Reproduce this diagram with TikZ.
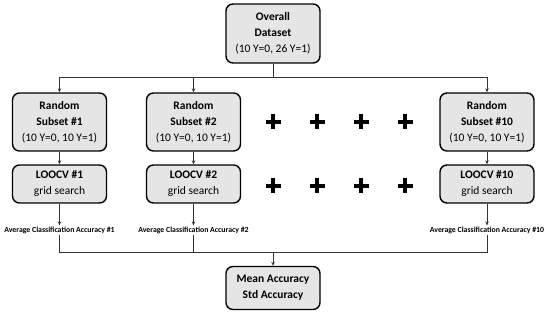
\documentclass[tikz,border=0pt]{standalone}
\usepackage{fontspec}
\setmainfont{Carlito}
\usetikzlibrary{positioning, arrows.meta}

\begin{document}
\begin{tikzpicture}[x=1pt, y=-1pt,
          nd/.style={draw, line width=1.4pt, rounded corners=7pt, fill=gray!20,
                     minimum width=94pt, align=center,
                     font=\fontsize{11.5}{16}\selectfont, inner sep=2pt},
          acc/.style={font=\fontsize{7.8}{8}\selectfont\bfseries, inner sep=1pt},
          ln/.style={draw=black!80, line width=0.8pt},
          arr/.style={ln, -{Stealth[length=4pt, width=3.5pt]}}]
        \useasboundingbox (0,0) rectangle (550,313);
        % top
        \node[nd, minimum height=59pt] (ovr) at (273,33.5)
          {\textbf{Overall}\\\textbf{Dataset}\\(10 Y=0, 26 Y=1)};
        \coordinate (split) at (273,77);
        % subsets
        \node[nd, minimum height=58pt] (sub1) at (59.5,122)
          {\textbf{Random}\\\textbf{Subset \#1}\\(10 Y=0, 10 Y=1)};
        \node[nd, minimum height=58pt] (sub2) at (193.5,122)
          {\textbf{Random}\\\textbf{Subset \#2}\\(10 Y=0, 10 Y=1)};
        \node[nd, minimum height=58pt] (sub10) at (487,122)
          {\textbf{Random}\\\textbf{Subset \#10}\\(10 Y=0, 10 Y=1)};
        % loocv
        \node[nd, minimum height=38pt] (loo1) at (59.5,184)
          {\textbf{LOOCV \#1}\\grid search};
        \node[nd, minimum height=38pt] (loo2) at (193.5,184)
          {\textbf{LOOCV \#2}\\grid search};
        \node[nd, minimum height=38pt] (loo10) at (487,184)
          {\textbf{LOOCV \#10}\\grid search};
        % accuracies
        \node[acc] (avg1) at (59.5,230) {Average Classification Accuracy \#1};
        \node[acc] (avg2) at (193.5,230) {Average Classification Accuracy \#2};
        \node[acc] (avg10) at (487,230) {Average Classification Accuracy \#10};
        \coordinate (join) at (273,252);
        \node[nd, minimum height=43pt] (mean) at (273,288)
          {\textbf{Mean Accuracy}\\\textbf{Std Accuracy}};
        % connectors
        \draw[ln] (ovr) -- (split);
        \draw[arr] (split) -| (sub1);
        \draw[arr] (split) -| (sub2);
        \draw[arr] (split) -| (sub10);
        \draw[arr] (sub1) -- (loo1);
        \draw[arr] (sub2) -- (loo2);
        \draw[arr] (sub10) -- (loo10);
        \draw[arr] (loo1) -- (avg1);
        \draw[arr] (loo2) -- (avg2);
        \draw[arr] (loo10) -- (avg10);
        \draw[ln] (avg1) |- (join);
        \draw[ln] (avg2) |- (join);
        \draw[ln] (avg10) |- (join);
        \draw[arr] (join) -- (mean);
        % plus signs
        \foreach \px in {273,317,361,405}
          \foreach \py in {122,186}
            \draw[line width=4.6pt] (\px-7.5,\py) -- (\px+7.5,\py) (\px,\py-7.5) -- (\px,\py+7.5);
      \end{tikzpicture}
\end{document}
